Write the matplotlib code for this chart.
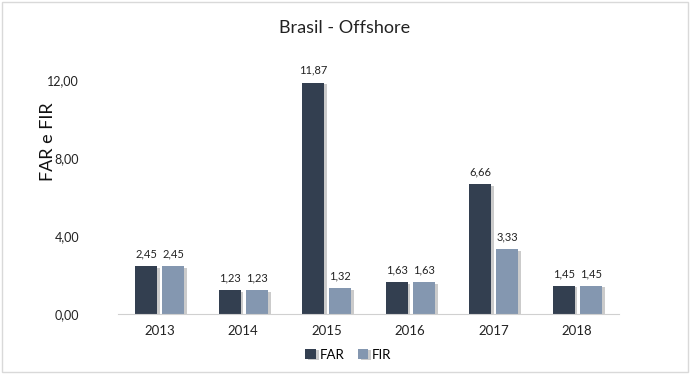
import numpy as np
import matplotlib.pyplot as plt
import matplotlib.patheffects as pe

anos = ["2013", "2014", "2015", "2016", "2017", "2018"]
far = [2.45, 1.23, 11.87, 1.63, 6.66, 1.45]
fir = [2.45, 1.23, 1.32, 1.63, 3.33, 1.45]

plt.rcParams['font.family'] = ['Lato', 'DejaVu Sans']

fig = plt.figure(figsize=(6.9, 3.74), dpi=100)
ax = fig.add_axes([0.171, 0.160, 0.726, 0.730])

x = np.arange(len(anos))
w = 0.265
shadow = [pe.SimplePatchShadow(offset=(2, -1), shadow_rgbFace='#999999', alpha=0.5), pe.Normal()]
b1 = ax.bar(x - w/2 - 0.03, far, w, color='#333F50', label='FAR', path_effects=shadow)
b2 = ax.bar(x + w/2 + 0.03, fir, w, color='#8497B0', label='FIR', path_effects=shadow)

def fmt(v):
    return f"{v:.2f}".replace('.', ',')

for bars, vals in [(b1, far), (b2, fir)]:
    for r, v in zip(bars, vals):
        ax.text(r.get_x() + r.get_width()/2, v + 0.35, fmt(v), ha='center', va='bottom',
                fontsize=8, color='#222222')

ax.set_xlim(-0.5, len(anos) - 0.5)
ax.set_ylim(0, 14)
ax.set_yticks([0, 4, 8, 12])
ax.set_yticklabels([fmt(t) for t in [0, 4, 8, 12]], fontsize=9, color='#222222')
ax.set_xticks(x)
ax.set_xticklabels(anos, fontsize=9.5, color='#222222')
ax.tick_params(length=0)
ax.tick_params(axis='y', pad=28)
ax.tick_params(axis='x', pad=8)
for s in ['top', 'right', 'left']:
    ax.spines[s].set_visible(False)
ax.spines['bottom'].set_color('#D0D0D0')

fig.text(0.070, 0.62, "FAR e FIR", rotation=90, ha='center', va='center', fontsize=13, color='#111111')
fig.text(0.5, 0.925, "Brasil - Offshore", ha='center', va='center', fontsize=13, color='#222222')

fig.legend(handles=[b1, b2], loc='center', bbox_to_anchor=(0.505, 0.052), ncol=2, frameon=False,
           fontsize=9.5, handlelength=0.8, handleheight=0.8, handletextpad=0.3, columnspacing=1.0)

fig.patches.append(plt.Rectangle((0.003, 0.005), 0.994, 0.99, transform=fig.transFigure,
                                 fill=False, edgecolor='#D9D9D9', linewidth=1))

fig.savefig("out.png", dpi=100)
